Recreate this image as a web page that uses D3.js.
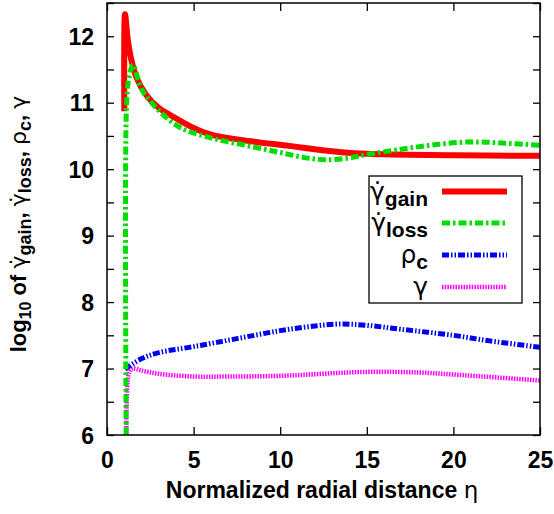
<!DOCTYPE html>
<html><head><meta charset="utf-8">
<script src="https://cdn.jsdelivr.net/npm/d3@7"></script>
<style>
html,body{margin:0;padding:0;background:#fff;}
svg text{font-family:"Liberation Sans",Arial,Helvetica,sans-serif;}
</style></head>
<body><svg id="c" width="554" height="514"></svg>
<script>
// ---- data ----
const xTicks = [0, 5, 10, 15, 20, 25];
const yTicks = [6, 6.5, 7, 7.5, 8, 8.5, 9, 9.5, 10, 10.5, 11, 11.5, 12, 12.5];

const gainEta = [1.0, 1.04, 1.2, 1.4, 1.7, 2.25, 3.0, 3.75, 5, 6, 8.3, 10.5, 13, 15, 20, 25];
const gainVal = [10.87, 12.33, 11.95, 11.65, 11.38, 11.12, 10.92, 10.8, 10.62, 10.52, 10.42, 10.35, 10.27, 10.23, 10.21, 10.2];

const lossEta = [1.12, 1.12, 1.25, 1.5, 2.0, 3.0, 4.2, 6, 8, 10, 11.5, 12.7, 14, 15, 17, 19, 21, 23, 25];
const lossVal = [5.5, 10.9, 11.35, 11.57, 11.2, 10.88, 10.63, 10.47, 10.36, 10.25, 10.17, 10.14, 10.17, 10.22, 10.3, 10.37, 10.41, 10.39, 10.36];

const rhoEta = [1.04, 2, 3, 5, 7.5, 10, 12, 13.5, 15, 17, 20, 22, 25];
const rhoVal = [6.99, 7.15, 7.24, 7.33, 7.45, 7.57, 7.64, 7.67, 7.65, 7.59, 7.5, 7.42, 7.32];

const gamEta = [1.12, 1.15, 1.3, 1.5, 2, 3, 5, 7, 10, 15, 18, 20, 25];
const gamVal = [5.5, 6.6, 6.95, 7.0, 6.97, 6.92, 6.88, 6.88, 6.89, 6.95, 6.94, 6.91, 6.82];

const seriesNames = ["gain", "loss", "c", ""];
const seriesColors = ["#ff0000", "#00dd00", "#0000ee", "#ff00ff"];
const seriesDash = [null, "8,3,2.5,3", "7,2,1.5,2,1.5,2", "1.5,1.2"];
const seriesWidth = [6, 5, 5, 4.5];

// ---- chart ----
const svg = d3.select("#c");
const L = 107, R = 540, T = 3, B = 435;
const x = d3.scaleLinear().domain([0, 25]).range([L, R]);
const y = d3.scaleLinear().domain([6, 12.5]).range([B, T]);

svg.append("defs").append("clipPath").attr("id", "clip")
  .append("rect").attr("x", L).attr("y", T).attr("width", R - L).attr("height", B - T);

const fsTick = 23;
const gb = svg.append("g").attr("transform", `translate(0,${B})`)
  .call(d3.axisBottom(x).tickValues(xTicks).tickSize(-8).tickPadding(17).tickFormat(d3.format("d")));
const gt = svg.append("g").attr("transform", `translate(0,${T})`)
  .call(d3.axisTop(x).tickValues(xTicks).tickSize(-8).tickFormat(""));
const gl = svg.append("g").attr("transform", `translate(${L},0)`)
  .call(d3.axisLeft(y).tickValues(yTicks).tickSize(-7).tickPadding(13)
    .tickFormat(d => Number.isInteger(d) ? d : ""));
const gr = svg.append("g").attr("transform", `translate(${R},0)`)
  .call(d3.axisRight(y).tickValues(yTicks).tickSize(-7).tickFormat(""));

[gb, gt, gl, gr].forEach(g => {
  g.select(".domain").remove();
  g.selectAll(".tick line").attr("stroke", "#000").attr("stroke-width", 1.3);
  g.selectAll(".tick text").attr("font-size", fsTick).attr("font-weight", "bold")
    .attr("fill", "#000").attr("font-family", "Liberation Sans, Arial, sans-serif");
});
gl.selectAll(".tick text").attr("dy", "0.36em");

const plot = svg.append("g").attr("clip-path", "url(#clip)");
const series = [
  d3.zip(gainEta, gainVal),
  d3.zip(lossEta, lossVal),
  d3.zip(rhoEta, rhoVal),
  d3.zip(gamEta, gamVal)
];
const lineGen = d3.line().x(d => x(d[0])).y(d => y(d[1])).curve(d3.curveCatmullRom.alpha(0.5));
[3, 2, 0, 1].forEach(i => {
  const p = plot.append("path")
    .attr("d", lineGen(series[i]))
    .attr("fill", "none").attr("stroke", seriesColors[i]).attr("stroke-width", seriesWidth[i])
    .attr("stroke-linejoin", "miter").attr("stroke-miterlimit", 10);
  if (seriesDash[i]) p.attr("stroke-dasharray", seriesDash[i]);
});

svg.append("rect").attr("x", L).attr("y", T).attr("width", R - L).attr("height", B - T)
  .attr("fill", "none").attr("stroke", "#000").attr("stroke-width", 1.5);

// legend
const lg = svg.append("g");
lg.append("rect").attr("x", 369).attr("y", 176).attr("width", 153).attr("height", 127)
  .attr("fill", "#fff").attr("stroke", "#000").attr("stroke-width", 1.3);
const legY = [191.5, 223, 255, 287];
const greek = ["γ\u0307", "γ\u0307", "ρ", "γ"];
seriesNames.forEach((nm, i) => {
  const t = lg.append("text").attr("x", 428).attr("y", legY[i] + 8).attr("text-anchor", "end")
    .attr("font-size", 22).attr("fill", "#000");
  t.append("tspan").attr("font-family", "DejaVu Sans, sans-serif").attr("font-size", 25).text(greek[i]);
  if (nm) t.append("tspan").attr("font-weight", "bold").attr("dy", 6).attr("font-size", 21).text(nm);
  const s = lg.append("line").attr("x1", 442).attr("x2", 507).attr("y1", legY[i]).attr("y2", legY[i])
    .attr("stroke", seriesColors[i]).attr("stroke-width", seriesWidth[i]);
  if (seriesDash[i]) s.attr("stroke-dasharray", seriesDash[i]);
});

// x title
svg.append("text").attr("x", 322).attr("y", 498).attr("text-anchor", "middle")
  .attr("font-size", 23).attr("font-weight", "bold").attr("fill", "#000")
  .text("Normalized radial distance ")
  .append("tspan").attr("font-weight", "normal").attr("font-family", "DejaVu Sans, sans-serif").text("η");

// y title
const yt = svg.append("text").attr("transform", "translate(26,224) rotate(-90)")
  .attr("text-anchor", "middle").attr("font-size", 22).attr("font-weight", "bold").attr("fill", "#000");
yt.append("tspan").text("log");
yt.append("tspan").attr("font-size", 16).attr("dy", 5).text("10");
yt.append("tspan").attr("dy", -5).text(" of ");
yt.append("tspan").attr("font-weight", "normal").attr("font-family", "DejaVu Sans, sans-serif").text("γ\u0307");
yt.append("tspan").attr("font-size", 18).attr("dy", 5).text("gain");
yt.append("tspan").attr("dy", -5).text(", ");
yt.append("tspan").attr("font-weight", "normal").attr("font-family", "DejaVu Sans, sans-serif").text("γ\u0307");
yt.append("tspan").attr("font-size", 18).attr("dy", 5).text("loss");
yt.append("tspan").attr("dy", -5).text(", ");
yt.append("tspan").attr("font-weight", "normal").attr("font-family", "DejaVu Sans, sans-serif").text("ρ");
yt.append("tspan").attr("font-size", 18).attr("dy", 5).text("c");
yt.append("tspan").attr("dy", -5).text(", ");
yt.append("tspan").attr("font-weight", "normal").attr("font-family", "DejaVu Sans, sans-serif").text("γ");
</script></body></html>
